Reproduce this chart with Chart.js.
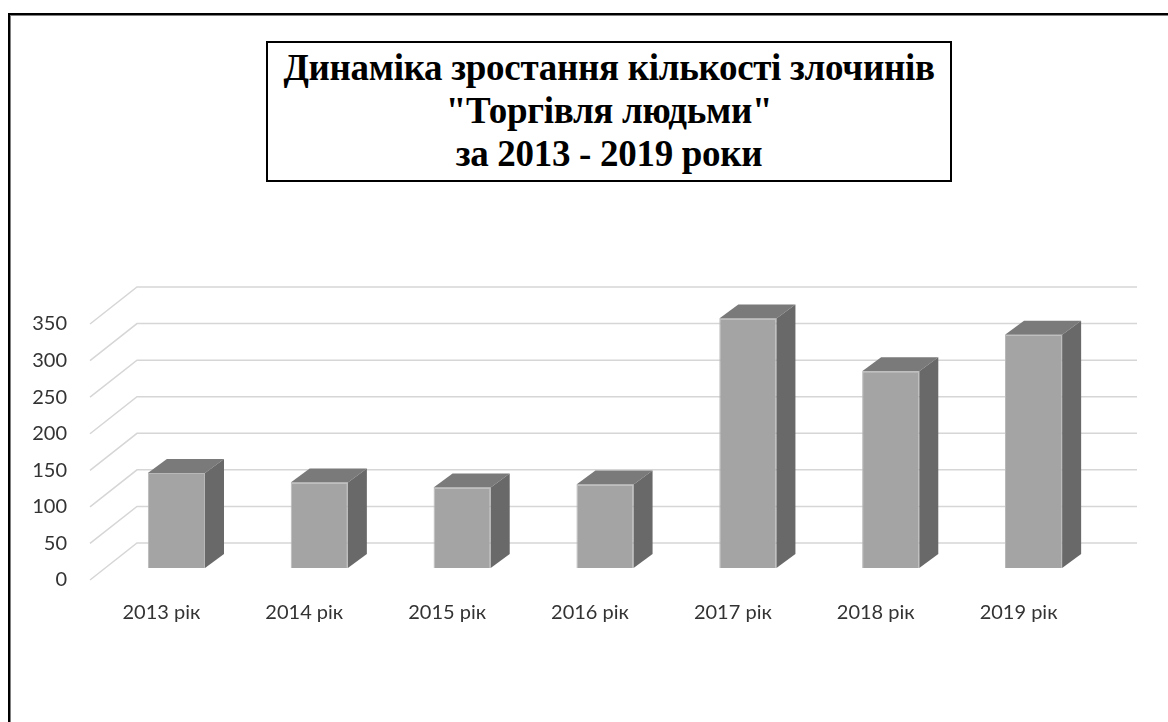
<!DOCTYPE html>
<html>
<head>
<meta charset="utf-8">
<script src="https://cdn.jsdelivr.net/npm/chart.js@4/dist/chart.umd.min.js"></script>
<style>
  html, body { margin: 0; padding: 0; background: #fff; overflow: hidden; }
  #wrap { position: relative; width: 1168px; height: 722px; }
  canvas { position: absolute; left: 0; top: 0; }
  .frame {
    position: absolute; left: 8px; top: 13px; width: 1200px; height: 760px;
    border-left: 2px solid #000; border-top: 2px solid #000;
    box-shadow: inset 1px 1px 0 #808080;
  }
  .title {
    position: absolute; left: 266px; top: 41px; width: 682px; height: 134px;
    border: 2px solid #000; background: #fff;
    padding-top: 3px; box-sizing: content-box;
    font-family: "Liberation Serif", "Times New Roman", serif;
    font-weight: bold; font-size: 37px; line-height: 43px;
    text-align: center; color: #000; letter-spacing: -0.3px;
  }
</style>
</head>
<body>
<div id="wrap">
  <canvas id="chart" width="1168" height="722"></canvas>
  <div class="frame"></div>
  <div class="title">Динаміка зростання кількості злочинів<br>"Торгівля людьми"<br>за 2013 - 2019 роки</div>
</div>
<script>
// Дані графіка
const years = ['2013 рік', '2014 рік', '2015 рік', '2016 рік', '2017 рік', '2018 рік', '2019 рік'];
const crimes = [130, 117, 110, 114, 341, 269, 319];
const yMax = 350;
const yStep = 50;

// Псевдо-3D: зсув задньої стінки, передньої грані стовпця та його глибина
const wallDX = 47, wallDY = 37;
const barDX = 15, barDY = 12;
const sideDX = 19, sideDY = 14;

const fakeDepth = {
  id: 'fakeDepth',
  beforeDatasetsDraw(chart) {
    const ctx = chart.ctx;
    const area = chart.chartArea;
    const yScale = chart.scales.y;
    // Лінії сітки: діагональ з передньої площини + лінія на задній стінці
    ctx.save();
    ctx.strokeStyle = '#d6d6d6';
    ctx.lineWidth = 1.5;
    yScale.ticks.forEach(t => {
      let y = yScale.getPixelForValue(t.value);
      ctx.beginPath();
      ctx.moveTo(area.left, y);
      ctx.lineTo(area.left + wallDX, y - wallDY);
      ctx.lineTo(area.right + wallDX, y - wallDY);
      ctx.stroke();
    });
    ctx.restore();
    // стовпці малюємо трохи вглиб
    ctx.save();
    ctx.translate(barDX, -barDY);
  },
  afterDatasetsDraw(chart) {
    const ctx = chart.ctx;
    const meta = chart.getDatasetMeta(0);
    meta.data.forEach(bar => {
      let l = bar.x - bar.width / 2;
      let r = bar.x + bar.width / 2;
      let top = bar.y;
      let base = bar.base;
      // верхня грань
      ctx.fillStyle = '#7a7a7a';
      ctx.beginPath();
      ctx.moveTo(l, top);
      ctx.lineTo(l + sideDX, top - sideDY);
      ctx.lineTo(r + sideDX, top - sideDY);
      ctx.lineTo(r, top);
      ctx.closePath();
      ctx.fill();
      // бічна грань
      ctx.fillStyle = '#696969';
      ctx.beginPath();
      ctx.moveTo(r, top);
      ctx.lineTo(r + sideDX, top - sideDY);
      ctx.lineTo(r + sideDX, base - sideDY);
      ctx.lineTo(r, base);
      ctx.closePath();
      ctx.fill();
    });
    ctx.restore();
  }
};

let canvas = document.getElementById('chart');
let context = canvas.getContext('2d');

new Chart(context, {
  type: 'bar',
  data: {
    labels: years,
    datasets: [{
      data: crimes,
      backgroundColor: '#a4a4a4',
      borderColor: '#b8b8b8',
      borderWidth: 1,
      barPercentage: 0.4,
      categoryPercentage: 1
    }]
  },
  options: {
    responsive: false,
    animation: false,
    devicePixelRatio: 1,
    layout: { padding: { left: 0, top: 324, right: 78, bottom: 82 } },
    plugins: {
      legend: { display: false },
      title: { display: false },
      tooltip: { enabled: false }
    },
    scales: {
      x: {
        grid: { display: false, drawTicks: false },
        border: { display: false },
        ticks: {
          padding: 21,
          color: '#333333',
          font: { family: 'Lato', size: 20 },
          maxRotation: 0
        },
        afterFit: s => { s.height = 60; }
      },
      y: {
        min: 0,
        max: yMax,
        grid: { display: false, drawTicks: false },
        border: { display: false },
        ticks: {
          stepSize: yStep,
          padding: 23,
          color: '#333333',
          font: { family: 'Lato', size: 20 }
        },
        afterFit: s => { s.width = 90; }
      }
    }
  },
  plugins: [fakeDepth]
});
</script>
</body>
</html>
